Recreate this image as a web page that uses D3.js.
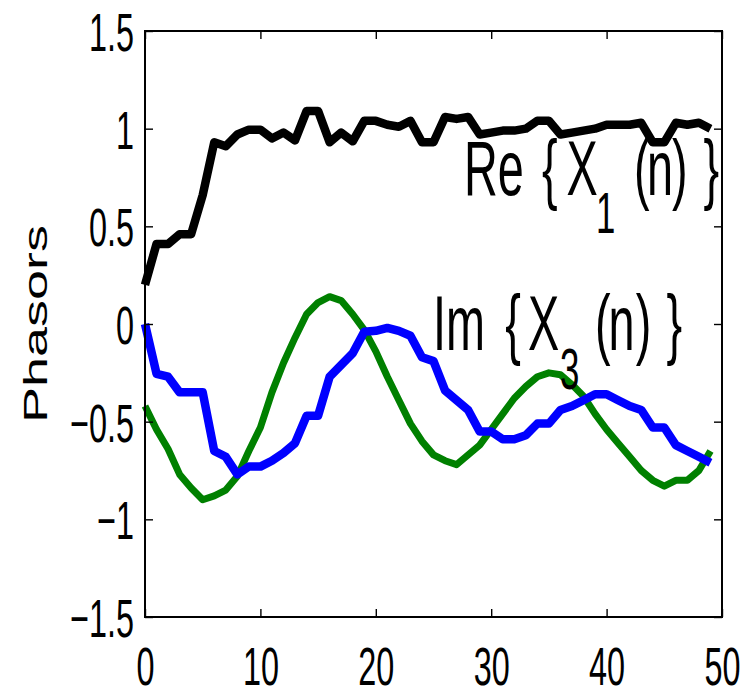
<!DOCTYPE html>
<html>
<head>
<meta charset="utf-8">
<script src="https://cdn.jsdelivr.net/npm/d3@7"></script>
<style>
  html, body { margin: 0; padding: 0; background: #fff; }
  svg { display: block; }
  text { font-family: "Liberation Sans", Arial, sans-serif; fill: #000; }
</style>
</head>
<body>
<div id="chart"></div>
<script>
// Samples n = 0..49
const reX1 = [0.2, 0.41, 0.41, 0.46, 0.46, 0.66, 0.93, 0.91, 0.97, 0.995,
  0.995, 0.95, 0.98, 0.94, 1.09, 1.09, 0.93, 0.98, 0.935, 1.04,
  1.04, 1.02, 1.01, 1.04, 0.93, 0.93, 1.06, 1.05, 1.06, 0.97,
  0.98, 0.99, 0.99, 1.0, 1.04, 1.04, 0.97, 0.98, 0.99, 1.0,
  1.02, 1.02, 1.02, 1.03, 0.93, 0.93, 1.03, 1.02, 1.03, 1.0];

const greenSeries = [-0.42, -0.54, -0.64, -0.77, -0.84, -0.9, -0.88, -0.85, -0.78, -0.65,
  -0.53, -0.35, -0.2, -0.07, 0.05, 0.11, 0.14, 0.12, 0.05, -0.03,
  -0.14, -0.27, -0.39, -0.51, -0.6, -0.67, -0.7, -0.72, -0.67, -0.62,
  -0.54, -0.46, -0.38, -0.32, -0.27, -0.25, -0.26, -0.31, -0.37, -0.46,
  -0.54, -0.61, -0.68, -0.75, -0.8, -0.83, -0.8, -0.8, -0.75, -0.65];

const imX3 = [0, -0.255, -0.27, -0.35, -0.35, -0.35, -0.65, -0.68, -0.77, -0.73,
  -0.73, -0.7, -0.66, -0.61, -0.47, -0.47, -0.27, -0.21, -0.15, -0.04,
  -0.035, -0.02, -0.035, -0.06, -0.17, -0.19, -0.34, -0.39, -0.44, -0.55,
  -0.55, -0.59, -0.59, -0.57, -0.51, -0.51, -0.44, -0.42, -0.39, -0.36,
  -0.36, -0.39, -0.42, -0.44, -0.53, -0.53, -0.62, -0.65, -0.68, -0.71];

const xTicks = [0, 10, 20, 30, 40, 50];
const xTickLabels = ['0', '10', '20', '30', '40', '50'];
const yTicks = [-1.5, -1, -0.5, 0, 0.5, 1, 1.5];
const yTickLabels = ['\u22121.5', '\u22121', '\u22120.5', '0', '0.5', '1', '1.5'];

const width = 747, height = 690;
const plotLeft = 145, plotRight = 722, plotTop = 31, plotBottom = 617;
const squeeze = 0.6; // glyphs in the reference are horizontally condensed
const labelSize = 54;

const svg = d3.select('#chart').append('svg')
  .attr('width', width)
  .attr('height', height);

const x = d3.scaleLinear().domain([0, 50]).range([plotLeft, plotRight]);
const y = d3.scaleLinear().domain([-1.5, 1.5]).range([plotBottom, plotTop]);

// Lines
const line = d3.line()
  .x((d, i) => x(i))
  .y(d => y(d));

const series = [
  { values: reX1, color: '#000000', width: 8.5 },
  { values: greenSeries, color: '#008000', width: 7 },
  { values: imX3, color: '#0000ff', width: 8.5 }
];

svg.append('g')
  .selectAll('path')
  .data(series)
  .join('path')
  .attr('d', d => line(d.values))
  .attr('fill', 'none')
  .attr('stroke', d => d.color)
  .attr('stroke-width', d => d.width)
  .attr('stroke-linejoin', 'round')
  .attr('stroke-linecap', 'butt');

// Axes with inward ticks on all four sides
function styleAxis(g) {
  g.select('.domain').remove();
  g.selectAll('.tick line').attr('stroke', '#000').attr('stroke-width', 1.4);
}

const xFmt = d => xTickLabels[xTicks.indexOf(d)];
const yFmt = d => yTickLabels[yTicks.indexOf(d)];

const gBottom = svg.append('g')
  .attr('transform', `translate(0,${plotBottom})`)
  .call(d3.axisBottom(x).tickValues(xTicks).tickFormat(xFmt).tickSizeInner(-8).tickSizeOuter(0))
  .call(styleAxis);
gBottom.selectAll('text')
  .attr('y', 68)
  .attr('dy', null)
  .attr('font-size', labelSize)
  .attr('font-family', '"Liberation Sans", Arial, sans-serif')
  .attr('transform', `scale(${squeeze},1)`);

const gLeft = svg.append('g')
  .attr('transform', `translate(${plotLeft},0)`)
  .call(d3.axisLeft(y).tickValues(yTicks).tickFormat(yFmt).tickSizeInner(-8).tickSizeOuter(0))
  .call(styleAxis);
gLeft.selectAll('text')
  .attr('x', -11 / squeeze)
  .attr('dy', '0.36em')
  .attr('font-size', labelSize)
  .attr('font-family', '"Liberation Sans", Arial, sans-serif')
  .attr('transform', `scale(${squeeze},1)`);

svg.append('g')
  .attr('transform', `translate(0,${plotTop})`)
  .call(d3.axisTop(x).tickValues(xTicks).tickFormat('').tickSizeInner(-8).tickSizeOuter(0))
  .call(styleAxis);

svg.append('g')
  .attr('transform', `translate(${plotRight},0)`)
  .call(d3.axisRight(y).tickValues(yTicks).tickFormat('').tickSizeInner(-8).tickSizeOuter(0))
  .call(styleAxis);

// Frame
svg.append('rect')
  .attr('x', plotLeft)
  .attr('y', plotTop)
  .attr('width', plotRight - plotLeft)
  .attr('height', plotBottom - plotTop)
  .attr('fill', 'none')
  .attr('stroke', '#000')
  .attr('stroke-width', 2);

// Y axis label
svg.append('text')
  .attr('transform', `translate(46.5,${(plotTop + plotBottom) / 2}) rotate(-90) scale(1,${squeeze})`)
  .attr('text-anchor', 'middle')
  .attr('font-size', labelSize)
  .text('Phasors');

// Annotations, built piece by piece like the TeX strings
function annotate(tokens, baseline) {
  const g = svg.append('g');
  tokens.forEach(t => {
    g.append('text')
      .attr('transform', `translate(${t.x},${baseline + (t.dy || 0)}) scale(${squeeze},1)`)
      .attr('font-size', t.size || 78)
      .text(t.s);
  });
}

annotate([
  { s: 'Re', x: 464 },
  { s: '{', x: 542 },
  { s: 'X', x: 566.5 },
  { s: '1', x: 596, size: 58, dy: 38 },
  { s: '(', x: 634 },
  { s: 'n', x: 647 },
  { s: ')', x: 672 },
  { s: '}', x: 703.5 }
], 195);

annotate([
  { s: 'Im', x: 433 },
  { s: '{', x: 505.3 },
  { s: 'X', x: 528 },
  { s: '3', x: 560, size: 58, dy: 39 },
  { s: '(', x: 595 },
  { s: 'n', x: 608.6 },
  { s: ')', x: 635.7 },
  { s: '}', x: 666.6 }
], 350);
</script>
</body>
</html>
